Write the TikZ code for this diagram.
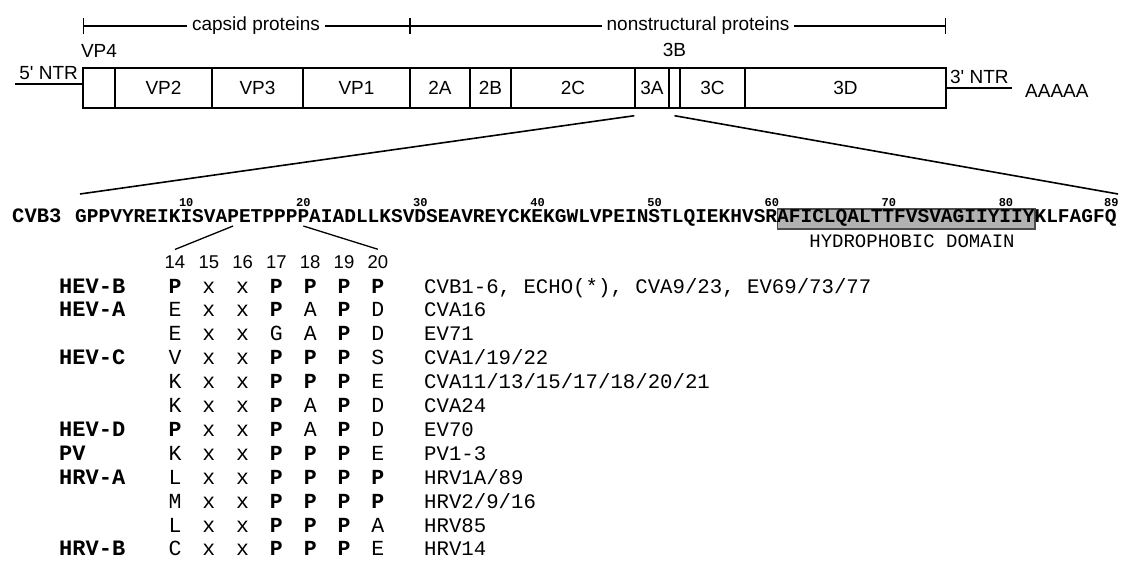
\documentclass[tikz,border=0pt]{standalone}
\usepackage{fontspec}
\setmainfont{Liberation Sans}
\setmonofont{Liberation Mono}
\usetikzlibrary{arrows.meta,positioning}
\newcommand{\boldP}{\textbf{P}}

\begin{document}
\begin{tikzpicture}[x=1pt,y=-1pt]
	\tikzstyle{segment} = [rectangle, draw=black, line width=1.4pt, minimum height=40pt, inner sep=0pt, font=\fontsize{19}{22}\selectfont]
	\tikzstyle{geneText} = [inner sep=1pt, font=\fontsize{19}{22}\selectfont]
	\tikzstyle{bracket} = [line width=1.3pt, {Bar[width=16pt]}-{Bar[width=16pt]}]
	\tikzstyle{zoomLine} = [line width=1.6pt]
	\tikzstyle{seqText} = [inner sep=0pt, font=\ttfamily\bfseries\fontsize{19.5}{22}\selectfont]
	\tikzstyle{posNum} = [inner sep=0pt, font=\ttfamily\bfseries\fontsize{12}{12}\selectfont]
	\tikzstyle{hydroBox} = [rectangle, draw=black!70, line width=1.5pt, fill=black!30, inner sep=0pt]
	\tikzstyle{colNum} = [inner sep=2pt, font=\fontsize{18.5}{22}\selectfont]
	\tikzstyle{groupText} = [inner sep=0pt, font=\ttfamily\bfseries\fontsize{22}{24}\selectfont]
	\tikzstyle{aaCell} = [inner sep=0pt, font=\ttfamily\fontsize{21.5}{24}\selectfont]
	\tikzstyle{strainText} = [inner sep=0pt, font=\ttfamily\fontsize{20.7}{24}\selectfont]
	\useasboundingbox (0,0) rectangle (1127,565);

	% genome map
	\foreach \xl/\xr/\nm/\txt in {83/115/vpFour/{}, 115/212/vpTwo/VP2, 212/303/vpThree/VP3, 303/410/vpOne/VP1, 410/470/twoA/2A, 470/511/twoB/2B, 511/635/twoC/2C, 635/669/threeA/3A, 669/680/threeB/{}, 680/745/threeC/3C, 745/946/threeD/3D}
		\node[segment, minimum width={(\xr-\xl)*1pt}] (\nm) at ({(\xl+\xr)/2},88) {\txt};
	\node[geneText, above=9pt of vpFour] (vpFourText) {VP4};
	\node[geneText, above=9pt of threeB] (threeBText) {3B};

	% non-translated regions
	\coordinate (fiveEnd) at (15,84);
	\coordinate (threeEnd) at (1012,88);
	\draw[line width=1.4pt] (fiveEnd) -- (fiveEnd -| vpFour.west) node[geneText, midway, above=3pt] (fiveNtr) {5\textquotesingle{} NTR};
	\draw[line width=1.4pt] (threeD.east) -- (threeEnd) node[geneText, midway, above=3pt] (threeNtr) {3\textquotesingle{} NTR};
	\node[geneText, right=12pt of threeEnd, yshift=-3pt] (polyA) {AAAAA};

	% protein regions
	\coordinate (capsidStart) at (83,26);
	\coordinate (capsidEnd) at (410,26);
	\coordinate (nsEnd) at (946,26);
	\draw[bracket] (capsidStart) -- (capsidEnd);
	\draw[bracket] (capsidEnd) -- (nsEnd);
	\node[geneText, fill=white, inner xsep=5pt] (capsid) at (256,26) {capsid proteins};
	\node[geneText, fill=white, inner xsep=5pt] (nonstructural) at (698,26) {nonstructural proteins};

	% zoom into 3A
	\coordinate (zoomLeft) at ([yshift=-7pt]threeA.south west);
	\coordinate (zoomRight) at ([yshift=-7pt]threeB.south);
	\coordinate (seqLeft) at (80,194);
	\coordinate (seqRight) at (1118,194);
	\draw[zoomLine] (zoomLeft) -- (seqLeft);
	\draw[zoomLine] (zoomRight) -- (seqRight);

	% 3A sequence
	\node[hydroBox, minimum width=257.6pt, minimum height=20pt] (hydrophobic) at (906.4,219) {};
	\node[seqText, anchor=base west, font=\ttfamily\bfseries\fontsize{20.5}{22}\selectfont] (cvbThree) at (12,222) {CVB3};
	\node[seqText, anchor=base west] (sequence) at (75,222) {GPPVYREIKISVAPETPPPPAIADLLKSVDSEAVREYCKEKGWLVPEINSTLQIEKHVSRAFICLQALTTFVSVAGIIYIIYKLFAGFQ};
	\foreach \n in {10,20,30,40,50,60,70,80,89}
		\node[posNum, anchor=base] (pos\n) at ({75+(\n-0.5)*11.71},206) {\n};
	\node[strainText, font=\ttfamily\fontsize{19}{22}\selectfont] (hydroText) at (912,241) {HYDROPHOBIC DOMAIN};

	% conserved motif 14-20
	\coordinate (resFourteen) at ({75+13.5*11.71},226);
	\coordinate (resTwenty) at ({75+19.5*11.71},226);
	\foreach \num [count=\kk from 0] in {14,...,20}
		\node[colNum] (col\num) at ({175+33.8*\kk},262) {\num};
	\draw[line width=1.3pt] (resFourteen) -- ([yshift=4pt]col14.north);
	\draw[line width=1.3pt] (resTwenty) -- ([yshift=4pt]col20.north);

	% alignment table
	\foreach \grp/\cells/\strain [count=\row from 0] in {
		HEV-B/{\boldP,x,x,\boldP,\boldP,\boldP,\boldP}/{CVB1-6, ECHO(*), CVA9/23, EV69/73/77},
		HEV-A/{E,x,x,\boldP,A,\boldP,D}/{CVA16},
		{}/{E,x,x,G,A,\boldP,D}/{EV71},
		HEV-C/{V,x,x,\boldP,\boldP,\boldP,S}/{CVA1/19/22},
		{}/{K,x,x,\boldP,\boldP,\boldP,E}/{CVA11/13/15/17/18/20/21},
		{}/{K,x,x,\boldP,A,\boldP,D}/{CVA24},
		HEV-D/{\boldP,x,x,\boldP,A,\boldP,D}/{EV70},
		PV/{K,x,x,\boldP,\boldP,\boldP,E}/{PV1-3},
		HRV-A/{L,x,x,\boldP,\boldP,\boldP,\boldP}/{HRV1A/89},
		{}/{M,x,x,\boldP,\boldP,\boldP,\boldP}/{HRV2/9/16},
		{}/{L,x,x,\boldP,\boldP,\boldP,A}/{HRV85},
		HRV-B/{C,x,x,\boldP,\boldP,\boldP,E}/{HRV14}}
	{
		\node[groupText, anchor=base west] (grp\row) at (59,{293+23.9*\row}) {\grp};
		\foreach \res [count=\kk from 0] in \cells
			\node[aaCell, anchor=base] (cell\row-\kk) at ({175+33.8*\kk},{293+23.9*\row}) {\res};
		\node[strainText, anchor=base west] (strain\row) at (424,{293+23.9*\row}) {\strain};
	}
\end{tikzpicture}
\end{document}
